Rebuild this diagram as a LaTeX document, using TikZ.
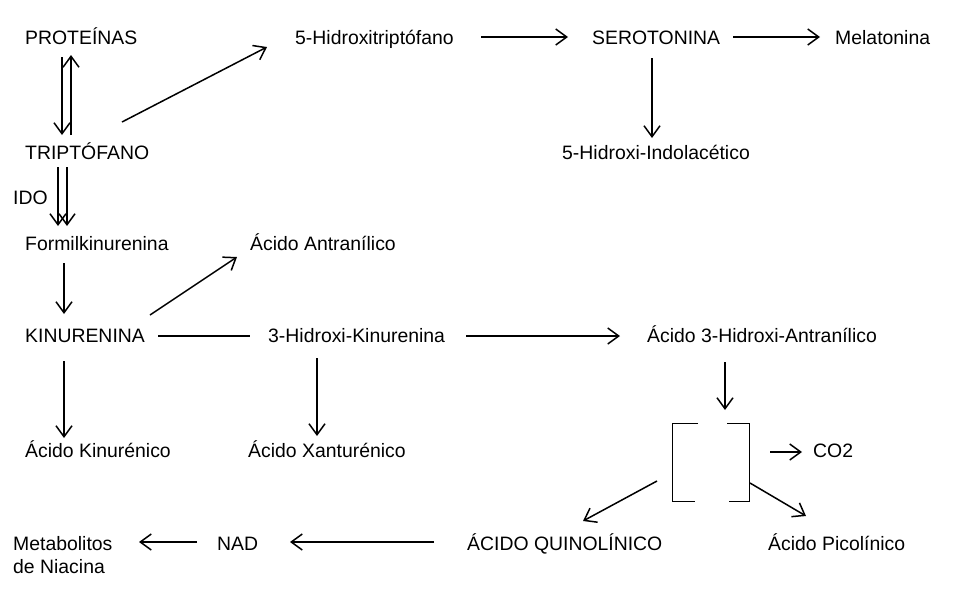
\documentclass[tikz,border=0pt]{standalone}
\usepackage{fontspec}
\setmainfont{Liberation Sans}
\usetikzlibrary{arrows.meta}
\begin{document}
\begin{tikzpicture}[x=1pt,y=-1pt,
  lbl/.style={anchor=base west, inner sep=0pt, font=\fontsize{19.4}{23}\selectfont},
  arr/.style={-{Straight Barb[length=11pt,width=16pt]}, line width=1.5pt},
  ln/.style={line width=1.5pt},
  brk/.style={line width=1pt}]
\useasboundingbox[fill=white] (0,0) rectangle (960,600);
% nodes
\node[lbl] (prot) at (25,44) {PROTEÍNAS};
\node[lbl] (htrp) at (295,44) {5-Hidroxitriptófano};
\node[lbl] (sero) at (592,44) {SEROTONINA};
\node[lbl] (mela) at (835,44) {Melatonina};
\node[lbl] (trip) at (25,159) {TRIPTÓFANO};
\node[lbl] (hiaa) at (562,159) {5-Hidroxi-Indolacético};
\node[lbl] (ido) at (13,204) {IDO};
\node[lbl] (form) at (25,250) {Formilkinurenina};
\node[lbl] (antr) at (250,250) {Ácido Antranílico};
\node[lbl] (kyn) at (25,342) {KINURENINA};
\node[lbl] (hkyn) at (268,342) {3-Hidroxi-Kinurenina};
\node[lbl] (haa) at (647,342) {Ácido 3-Hidroxi-Antranílico};
\node[lbl] (kyna) at (25,457) {Ácido Kinurénico};
\node[lbl] (xant) at (248,457) {Ácido Xanturénico};
\node[lbl] (co2) at (813,457) {CO2};
\node[lbl, align=left] (met) at (13,573) {Metabolitos\\de Niacina};
\node[lbl] (nad) at (217,550) {NAD};
\node[lbl] (quin) at (467,550) {ÁCIDO QUINOLÍNICO};
\node[lbl] (pico) at (768,550) {Ácido Picolínico};
% connector end points
\coordinate (pt1) at (62,57);   \coordinate (tp1) at (62,135);
\coordinate (tp2) at (71,135);  \coordinate (pt2) at (71,55);
\coordinate (tp3) at (122,122); \coordinate (ht3) at (267,47);
\coordinate (tp4) at (58,167);  \coordinate (fo4) at (58,226);
\coordinate (tp5) at (67,167);  \coordinate (fo5) at (67,226);
\coordinate (fo6) at (64,263);  \coordinate (ky6) at (64,314);
\coordinate (ky7) at (150,315); \coordinate (an7) at (237,257);
\coordinate (ky8) at (158,336); \coordinate (hk8) at (250,336);
\coordinate (hk9) at (466,336); \coordinate (ha9) at (620,336);
\coordinate (ht10) at (481,37); \coordinate (se10) at (568,37);
\coordinate (se11) at (733,37); \coordinate (me11) at (820,37);
\coordinate (se12) at (652,58); \coordinate (hi12) at (652,138);
\coordinate (ky13) at (64,361); \coordinate (kn13) at (64,438);
\coordinate (hk14) at (317,358);\coordinate (xa14) at (317,436);
\coordinate (ha15) at (725,362);\coordinate (br15) at (725,410);
\coordinate (br16) at (770,452);\coordinate (co16) at (802,452);
\coordinate (br17) at (750,483);\coordinate (pi17) at (806,516);
\coordinate (br18) at (657,481);\coordinate (qu18) at (583,521);
\coordinate (qu19) at (434,542);\coordinate (na19) at (290,542);
\coordinate (na20) at (197,542);\coordinate (me20) at (139,542);
% connectors
\draw[arr] (pt1) -- (tp1);
\draw[arr] (tp2) -- (pt2);
\draw[arr] (tp3) -- (ht3);
\draw[arr] (tp4) -- (fo4);
\draw[arr] (tp5) -- (fo5);
\draw[arr] (fo6) -- (ky6);
\draw[arr] (ky7) -- (an7);
\draw[ln]  (ky8) -- (hk8);
\draw[arr] (hk9) -- (ha9);
\draw[arr] (ht10) -- (se10);
\draw[arr] (se11) -- (me11);
\draw[arr] (se12) -- (hi12);
\draw[arr] (ky13) -- (kn13);
\draw[arr] (hk14) -- (xa14);
\draw[arr] (ha15) -- (br15);
\draw[arr] (br16) -- (co16);
\draw[arr] (br17) -- (pi17);
\draw[arr] (br18) -- (qu18);
\draw[arr] (qu19) -- (na19);
\draw[arr] (na20) -- (me20);
% bracket
\draw[brk] (698,423) -- (672,423) -- (672,501) -- (695,501);
\draw[brk] (727,423) -- (749,423) -- (749,501) -- (729,501);
\end{tikzpicture}
\end{document}
